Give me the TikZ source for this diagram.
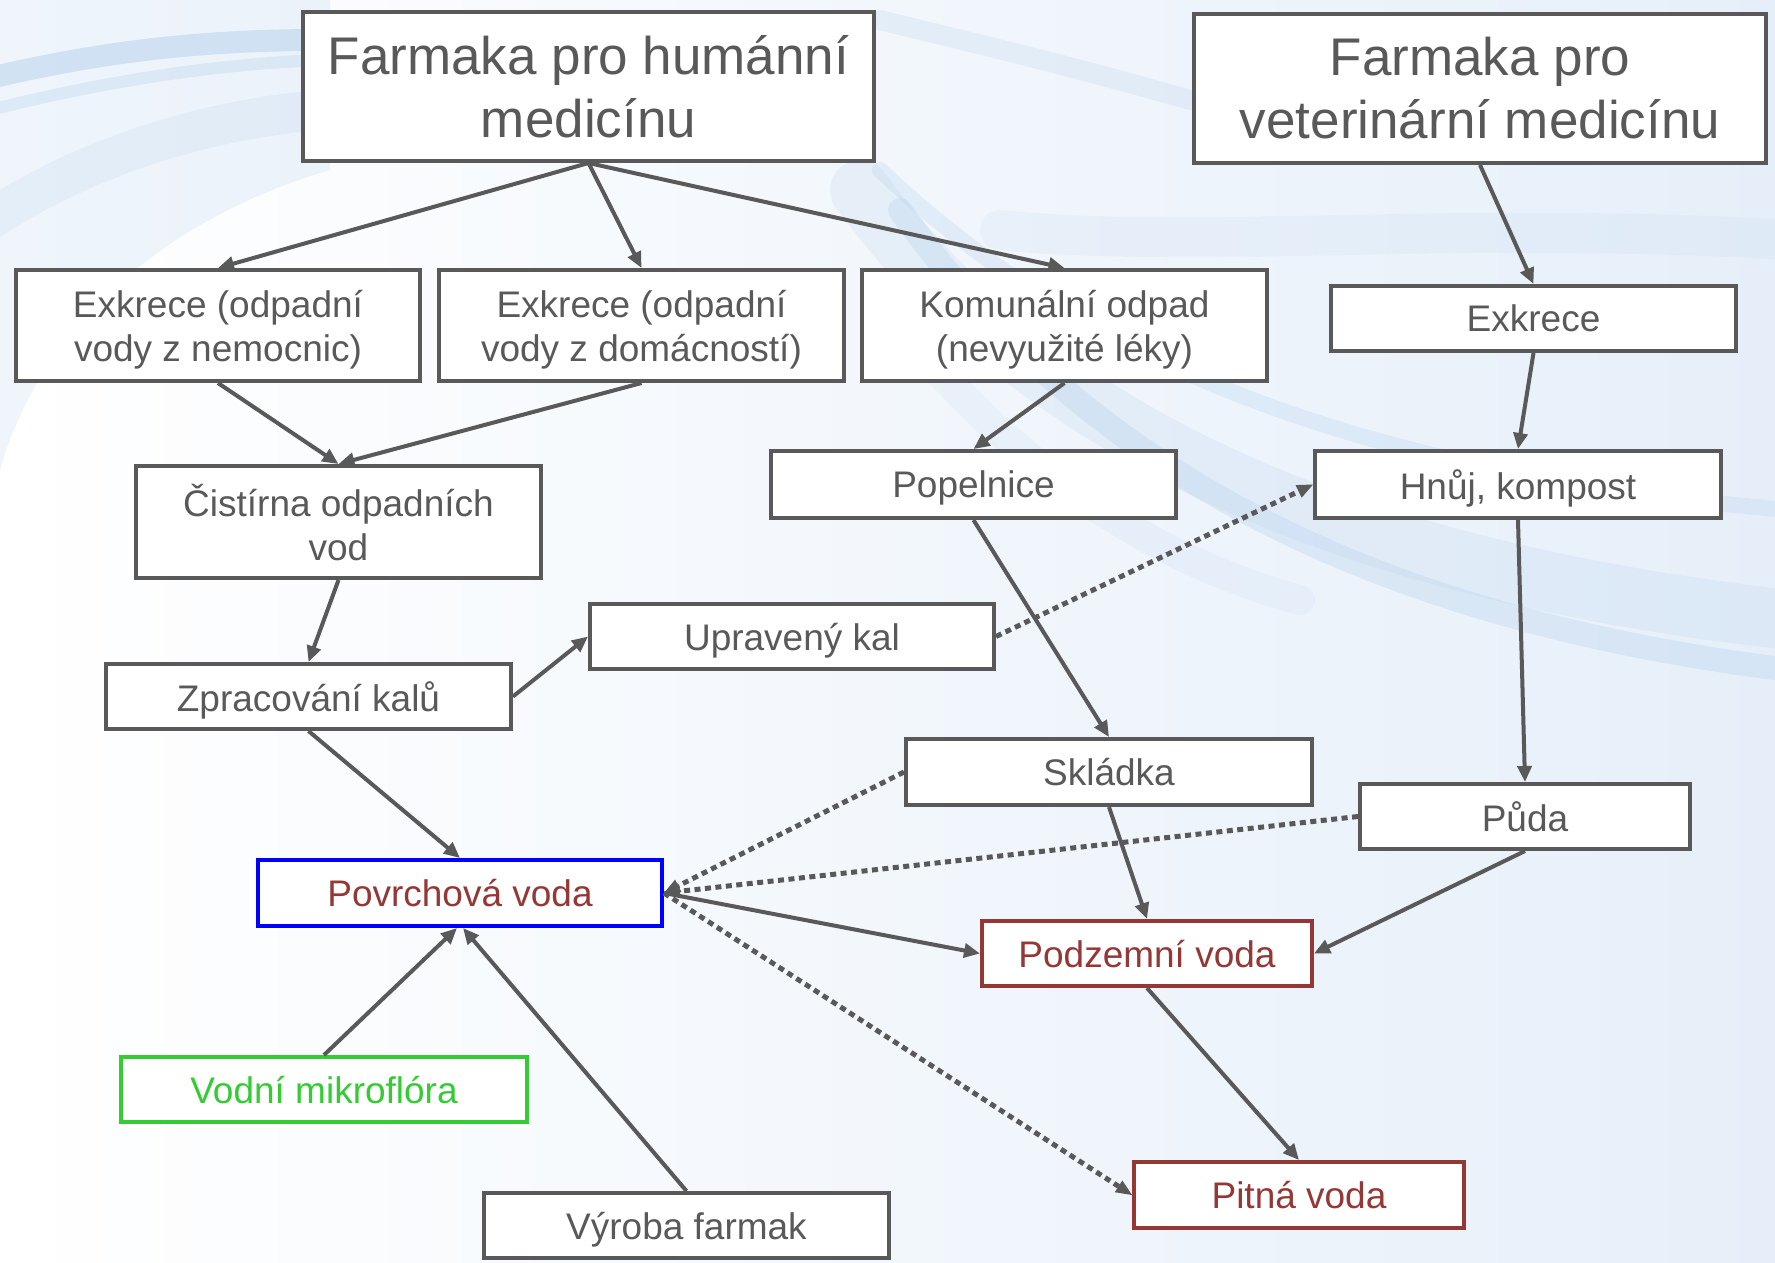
\documentclass[tikz,border=0pt]{standalone}
\usepackage{fontspec}
\setmainfont{Liberation Sans}
\usetikzlibrary{arrows.meta}
\definecolor{dg}{HTML}{595959}
\definecolor{dred}{HTML}{953735}
\definecolor{myblue}{HTML}{0000FF}
\definecolor{mygreen}{HTML}{33CC33}
\definecolor{sw}{HTML}{B9D3EE}
\definecolor{bgblue}{HTML}{E6EFF9}
\begin{document}
\begin{tikzpicture}[x=1pt,y=-1pt,
  basebox/.style={draw=dg, line width=4pt, fill=white, text=dg, align=center, inner sep=0pt},
  box/.style={basebox, text depth=0pt, font=\fontsize{37}{44}\selectfont},
  titlebox/.style={basebox, font=\fontsize{53}{63}\selectfont},
  conn/.style={draw=dg, line width=4pt, -{Triangle[length=16pt,width=14pt]}},
  dotconn/.style={draw=dg, line width=5pt, dash pattern=on 6pt off 4.5pt,
                  -{Triangle[length=16pt,width=14pt,line width=0pt]}},
  swoosh/.style={draw=sw, line cap=round}]
\useasboundingbox (0,0) rectangle (1775,1262);
% background
\shade[left color=white, right color=bgblue] (0,0) rectangle (1775,1262);
\fill[sw, opacity=0.22] (0,470) .. controls (40,330) and (160,220) .. (330,170) -- (330,0) -- (0,0) -- cycle;
\draw[swoosh, line width=22pt, opacity=0.55] (-10,78) .. controls (100,52) and (200,40) .. (320,40);
\draw[swoosh, line width=12pt, opacity=0.35] (-10,110) .. controls (90,85) and (200,65) .. (320,60);
\draw[swoosh, line width=40pt, opacity=0.2] (-10,220) .. controls (80,160) and (200,120) .. (320,110);
% right swoosh
\draw[swoosh, line width=60pt, opacity=0.22] (860,190) .. controls (1000,380) and (1250,560) .. (1790,620);
\draw[swoosh, line width=24pt, opacity=0.35] (900,210) .. controls (1050,420) and (1300,610) .. (1790,670);
\draw[swoosh, line width=16pt, opacity=0.3] (880,170) .. controls (1050,330) and (1300,470) .. (1790,510);
\draw[swoosh, line width=40pt, opacity=0.15] (1000,230) .. controls (1200,250) and (1450,220) .. (1790,240);
\draw[swoosh, line width=20pt, opacity=0.25] (880,20) .. controls (960,40) and (1050,60) .. (1190,100);
\draw[swoosh, line width=30pt, opacity=0.15] (880,300) .. controls (1000,460) and (1150,560) .. (1300,600);
% nodes
\node[titlebox, minimum width=571pt, minimum height=149pt] (human) at (588.5,86.5) {Farmaka pro humánní\\medicínu};
\node[titlebox, minimum width=572pt, minimum height=149pt] (vet) at (1480,88.5) {Farmaka pro\\veterinární medicínu};
\node[box, minimum width=404pt, minimum height=111pt] (exn) at (218,325.5) {Exkrece (odpadní\\vody z nemocnic)};
\node[box, minimum width=405pt, minimum height=111pt] (exd) at (641.5,325.5) {Exkrece (odpadní\\vody z domácností)};
\node[box, minimum width=405pt, minimum height=111pt] (kom) at (1064.5,325.5) {Komunální odpad\\(nevyužité léky)};
\node[box, minimum width=405pt, minimum height=65pt] (exv) at (1533.5,318.5) {Exkrece};
\node[box, minimum width=405pt, minimum height=112pt] (cist) at (338.5,522) {Čistírna odpadních\\vod};
\node[box, minimum width=405pt, minimum height=67pt] (pop) at (973.5,484.5) {Popelnice};
\node[box, minimum width=406pt, minimum height=67pt] (hnuj) at (1518,484.5) {Hnůj, kompost};
\node[box, minimum width=404pt, minimum height=65pt] (upr) at (792,636.5) {Upravený kal};
\node[box, minimum width=405pt, minimum height=65pt] (zpr) at (308.5,696.5) {Zpracování kalů};
\node[box, minimum width=406pt, minimum height=66pt] (skl) at (1109,772) {Skládka};
\node[box, minimum width=330pt, minimum height=65pt] (puda) at (1525,816.5) {Půda};
\node[box, draw=myblue, text=dred, minimum width=404pt, minimum height=66pt] (povr) at (460,893) {Povrchová voda};
\node[box, draw=dred, text=dred, minimum width=330pt, minimum height=65pt] (podz) at (1147,953.5) {Podzemní voda};
\node[box, draw=mygreen, text=mygreen, minimum width=406pt, minimum height=65pt] (vodni) at (324,1089.5) {Vodní mikroflóra};
\node[box, minimum width=405pt, minimum height=65pt] (vyr) at (686.5,1225.5) {Výroba farmak};
\node[box, draw=dred, text=dred, minimum width=330pt, minimum height=66pt] (pitna) at (1299,1195) {Pitná voda};
% connectors
\draw[conn] (human.south) -- (exn.north);
\draw[conn] (human.south) -- (exd.north);
\draw[conn] (human.south) -- (kom.north);
\draw[conn] (vet.south) -- (exv.north);
\draw[conn] (exn.south) -- (cist.north);
\draw[conn] (exd.south) -- (cist.north);
\draw[conn] (kom.south) -- (pop.north);
\draw[conn] (exv.south) -- (hnuj.north);
\draw[conn] (cist.south) -- (zpr.north);
\draw[conn] (zpr.east) -- (upr.west);
\draw[dotconn] (upr.east) -- (hnuj.west);
\draw[conn] (pop.south) -- (skl.north);
\draw[conn] (hnuj.south) -- (puda.north);
\draw[conn] (zpr.south) -- (povr.north);
\draw[dotconn] (skl.west) -- (povr.east);
\draw[dotconn] (puda.west) -- (povr.east);
\draw[conn] (skl.south) -- (podz.north);
\draw[conn] (puda.south) -- (podz.east);
\draw[conn] (povr.east) -- (podz.west);
\draw[dotconn] (povr.east) -- (pitna.west);
\draw[conn] (podz.south) -- (pitna.north);
\draw[conn] (vodni.north) -- ([xshift=-3pt]povr.south);
\draw[conn] (vyr.north) -- ([xshift=3pt]povr.south);
\end{tikzpicture}
\end{document}
